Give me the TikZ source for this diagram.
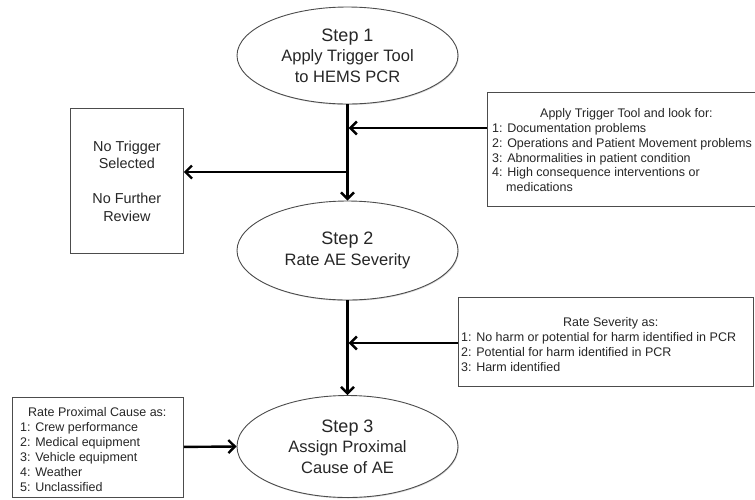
\documentclass[tikz,border=0pt]{standalone}
\usepackage{fontspec}
\setmainfont{Liberation Sans}
\usetikzlibrary{arrows.meta,shapes.geometric,shadows}
\begin{document}
\begin{tikzpicture}[x=1pt,y=-1pt,
  oval/.style={ellipse, draw=black!70, line width=0.9pt, fill=white, inner sep=0pt,
    minimum width=221pt, align=center, text=black!85,
    font=\fontsize{16.5}{20.5}\selectfont,
    drop shadow={shadow xshift=0.8pt,shadow yshift=-1pt,fill=black!30}},
  box/.style={rectangle, draw=black!70, line width=0.8pt, fill=white, inner sep=0pt,
    anchor=north west,
    drop shadow={shadow xshift=0.8pt,shadow yshift=-1pt,fill=black!35}},
  boxtxt/.style={inner sep=0pt, anchor=north west, align=left, text=black!85,
    font=\fontsize{12.5}{14.8}\selectfont},
  arr/.style={line width=2.4pt, -{Straight Barb[length=6.5pt,width=13pt]}}
]
\useasboundingbox (0,0) rectangle (755,499);

% ellipses
\node[oval, minimum height=97pt] (e1) at (347.5,55.5)
  {{\fontsize{18}{20.5}\selectfont Step 1}\\Apply Trigger Tool\\to HEMS PCR};
\node[oval, minimum height=99pt] (e2) at (347.5,250.5)
  {{\fontsize{18}{20.5}\selectfont Step 2}\\Rate AE Severity};
\node[oval, minimum height=102pt] (e3) at (347.5,446.5)
  {{\fontsize{18}{20.5}\selectfont Step 3}\\Assign Proximal\\Cause of AE};

% boxes
\node[box, minimum width=267.5pt, minimum height=114pt] (b1) at (487,92) {};
\node[boxtxt] (b1t) at (492,108.4)
  {\hspace*{48pt}Apply Trigger Tool and look for:\\
   1: Documentation problems\\
   2: Operations and Patient Movement problems\\
   3: Abnormalities in patient condition\\
   4: High consequence interventions or\\
   \hspace*{14pt}medications};

\node[box, minimum width=295pt, minimum height=89pt] (b2) at (458,297) {};
\node[boxtxt] (b2t) at (461,317.4)
  {\hspace*{102pt}Rate Severity as:\\
   1: No harm or potential for harm identified in PCR\\
   2: Potential for harm identified in PCR\\
   3: Harm identified};

\node[box, minimum width=171pt, minimum height=100pt] (b3) at (12,396.5) {};
\node[boxtxt, font=\fontsize{12.5}{15.1}\selectfont] (b3t) at (20,406.8)
  {\hspace*{8pt}Rate Proximal Cause as:\\
   1: Crew performance\\
   2: Medical equipment\\
   3: Vehicle equipment\\
   4: Weather\\
   5: Unclassified};

\node[box, minimum width=113pt, minimum height=145pt, align=center, text=black!85,
  font=\fontsize{14.4}{17.5}\selectfont] (nt) at (70,108)
  {No Trigger\\Selected\\[17.5pt]No Further\\Review};

% connectors
\coordinate (j1) at (347.5,128);
\coordinate (j2) at (347.5,172);
\coordinate (j3) at (347.5,343);
\draw[arr] (e1.south) -- (e2.north);
\draw[arr, shorten >=1.2pt] (b1.west |- j1) -- (j1);
\draw[arr] (j2) -- (nt.east |- j2);
\draw[arr] (e2.south) -- (e3.north);
\draw[arr, shorten >=1.2pt] (b2.west |- j3) -- (j3);
\draw[arr] (b3.east) -- (e3.west);
\end{tikzpicture}
\end{document}
